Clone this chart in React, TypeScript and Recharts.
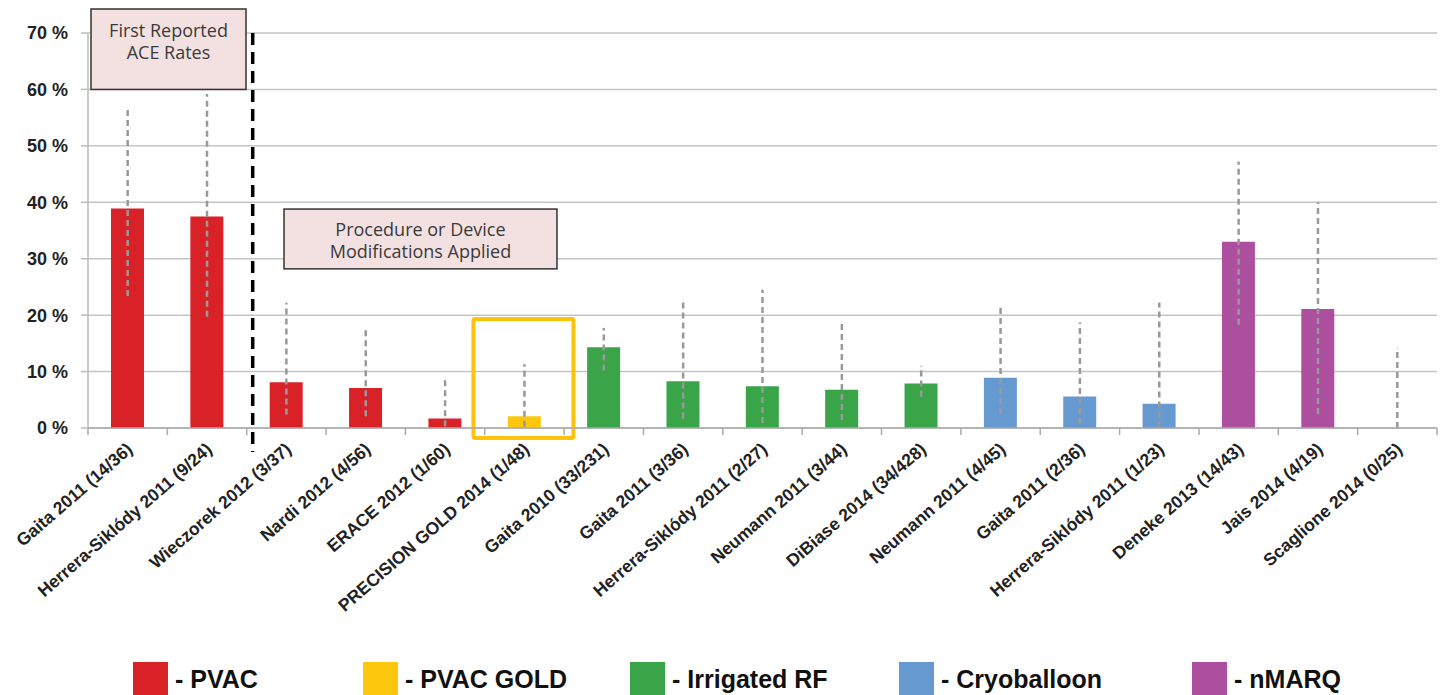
import {
  ComposedChart,
  Bar,
  Cell,
  Scatter,
  ErrorBar,
  XAxis,
  YAxis,
  CartesianGrid,
  Customized,
} from "recharts";

const CATEGORIES = [
  "Gaita 2011 (14/36)",
  "Herrera-Siklódy 2011 (9/24)",
  "Wieczorek 2012 (3/37)",
  "Nardi 2012 (4/56)",
  "ERACE 2012 (1/60)",
  "PRECISION GOLD 2014 (1/48)",
  "Gaita 2010 (33/231)",
  "Gaita 2011 (3/36)",
  "Herrera-Siklódy 2011 (2/27)",
  "Neumann 2011 (3/44)",
  "DiBiase 2014 (34/428)",
  "Neumann 2011 (4/45)",
  "Gaita 2011 (2/36)",
  "Herrera-Siklódy 2011 (1/23)",
  "Deneke 2013 (14/43)",
  "Jais 2014 (4/19)",
  "Scaglione 2014 (0/25)",
];

const RATES = [38.9, 37.5, 8.1, 7.1, 1.7, 2.1, 14.3, 8.3, 7.4, 6.8, 7.9, 8.9, 5.6, 4.3, 33.0, 21.1, 0];
const CI_LOW = [23.4, 19.7, 2.4, 2.1, 0.3, 0.2, 10.2, 1.7, 0.9, 1.4, 5.6, 2.5, 0.7, 0.1, 18.3, 2.5, 0];
const CI_HIGH = [56.6, 59.2, 22.2, 17.5, 9.0, 11.3, 17.7, 22.7, 24.5, 18.8, 11.0, 21.3, 18.7, 22.2, 47.2, 40.0, 14.0];

const GROUP = [
  "PVAC", "PVAC", "PVAC", "PVAC", "PVAC",
  "PVAC GOLD",
  "Irrigated RF", "Irrigated RF", "Irrigated RF", "Irrigated RF", "Irrigated RF",
  "Cryoballoon", "Cryoballoon", "Cryoballoon",
  "nMARQ", "nMARQ", "nMARQ",
];

const GROUP_NAMES = ["PVAC", "PVAC GOLD", "Irrigated RF", "Cryoballoon", "nMARQ"];
const GROUP_COLORS = ["#d92228", "#fcc70c", "#3aa548", "#6699cf", "#ad4f9f"];

const Y_TICKS = [0, 10, 20, 30, 40, 50, 60, 70];

// layout
const W = 1443;
const H = 695;
const PLOT_LEFT = 88;
const PLOT_RIGHT = 1437;
const PLOT_TOP = 33;
const PLOT_BOTTOM = 428;
const BAND = (PLOT_RIGHT - PLOT_LEFT) / CATEGORIES.length;
const yPx = (v: number) => PLOT_BOTTOM - (v / 70) * (PLOT_BOTTOM - PLOT_TOP);
const LEGEND_LEFT = [133, 363, 630, 899, 1192];

const colorOf = (g: string) => GROUP_COLORS[GROUP_NAMES.indexOf(g)];

const data = CATEGORIES.map((name, i) => ({
  name,
  rate: RATES[i],
  ci: [RATES[i] - CI_LOW[i], CI_HIGH[i] - RATES[i]],
}));

const XTick = (props: any) => {
  const { x, y, payload } = props;
  const ax = x + 6;
  const ay = y + 15;
  return (
    <text
      x={ax}
      y={ay}
      transform={`rotate(-41, ${ax}, ${ay})`}
      textAnchor="end"
      fontFamily="Liberation Sans, Arial, sans-serif"
      fontWeight="bold"
      fontSize={17.5}
      fill="#222"
    >
      {payload.value}
    </text>
  );
};

const NoteBox = ({ x, y, w, h, lines, base }: { x: number; y: number; w: number; h: number; lines: string[]; base: number }) => (
  <g>
    <rect x={x} y={y} width={w} height={h} fill="#f3e1e1" stroke="#333" strokeWidth={1.5} />
    {lines.map((l, i) => (
      <text
        key={i}
        x={x + w / 2}
        y={base + i * 22}
        textAnchor="middle"
        fontFamily="Open Sans, sans-serif"
        fontSize={18}
        fill="#3a3a3a"
      >
        {l}
      </text>
    ))}
  </g>
);

const Overlay = () => {
  const ticks = [];
  for (let i = 0; i <= CATEGORIES.length; i++) {
    const x = PLOT_LEFT + BAND * i;
    ticks.push(<line key={i} x1={x} x2={x} y1={PLOT_BOTTOM} y2={PLOT_BOTTOM + 7} stroke="#aaa" strokeWidth={1.5} />);
  }
  const goldCx = PLOT_LEFT + BAND * 5.5;
  return (
    <g>
      {ticks}
      <line
        x1={PLOT_LEFT + BAND * 2 + 6}
        x2={PLOT_LEFT + BAND * 2 + 6}
        y1={PLOT_TOP}
        y2={PLOT_BOTTOM + 24}
        stroke="#000"
        strokeWidth={3.5}
        strokeDasharray="12 7"
      />
      <rect
        x={goldCx - 51}
        y={yPx(19.3)}
        width={100}
        height={PLOT_BOTTOM + 10 - yPx(19.3)}
        fill="none"
        stroke="#fcc30a"
        strokeWidth={4}
        rx={2}
      />
      <NoteBox x={PLOT_LEFT + 3} y={9} w={155} h={yPx(60) - 9} lines={["First Reported", "ACE Rates"]} base={37} />
      <NoteBox
        x={PLOT_LEFT + BAND * 2.47}
        y={yPx(38.8)}
        w={BAND * 3.44}
        h={yPx(28.2) - yPx(38.8)}
        lines={["Procedure or Device", "Modifications Applied"]}
        base={236}
      />
      {GROUP_NAMES.map((g, i) => (
        <g key={g}>
          <rect x={LEGEND_LEFT[i]} y={662} width={35} height={40} fill={GROUP_COLORS[i]} />
          <text
            x={LEGEND_LEFT[i] + 42}
            y={688}
            fontFamily="Liberation Sans, Arial, sans-serif"
            fontWeight="bold"
            fontSize={25}
            fill="#111"
          >
            - {g}
          </text>
        </g>
      ))}
    </g>
  );
};

export default function App() {
  return (
    <div style={{ position: "absolute", left: 0, top: 0, width: W, height: H, background: "#fff", overflow: "hidden" }}>
      <ComposedChart
        width={W}
        height={H}
        data={data}
        margin={{ top: PLOT_TOP, right: W - PLOT_RIGHT, left: 0, bottom: 0 }}
      >
        <CartesianGrid vertical={false} stroke="#c4c4c4" strokeWidth={1.5} />
        <XAxis
          dataKey="name"
          interval={0}
          height={H - PLOT_BOTTOM}
          tick={<XTick />}
          tickLine={false}
          axisLine={{ stroke: "#aaa", strokeWidth: 1.5 }}
        />
        <YAxis
          width={PLOT_LEFT}
          domain={[0, 70]}
          ticks={Y_TICKS}
          tickFormatter={(v) => `${v} %`}
          tick={{ fontFamily: "Liberation Sans, Arial, sans-serif", fontWeight: "bold", fontSize: 18, fill: "#222" }}
          tickSize={7}
          tickMargin={13}
          tickLine={{ stroke: "#bbb", strokeWidth: 1.5 }}
          axisLine={{ stroke: "#bbb", strokeWidth: 1.5 }}
        />
        <Bar dataKey="rate" barSize={33} isAnimationActive={false}>
          {data.map((_, i) => (
            <Cell key={`cell-${i}`} fill={colorOf(GROUP[i])} />
          ))}
        </Bar>
        <Scatter dataKey="rate" shape={() => <g />} isAnimationActive={false}>
          <ErrorBar
            dataKey="ci"
            direction="y"
            width={0}
            stroke="#999"
            strokeWidth={2.5}
            strokeDasharray="6 4"
            isAnimationActive={false}
          />
        </Scatter>
        <Customized component={<Overlay />} />
      </ComposedChart>
    </div>
  );
}
